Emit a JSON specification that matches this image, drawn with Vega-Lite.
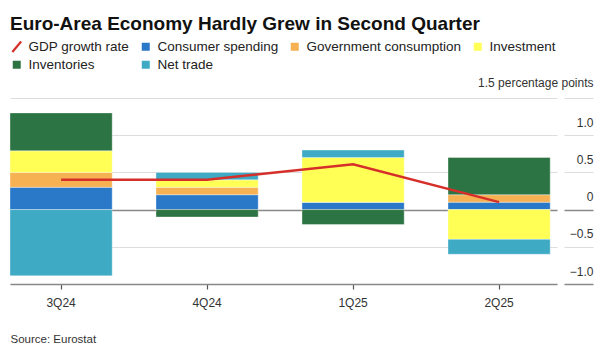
{
  "$schema": "https://vega.github.io/schema/vega-lite/v6.json",
  "width": 547,
  "height": 186,
  "autosize": {"type": "none"},
  "padding": {"left": 10, "top": 98, "right": 46, "bottom": 70},
  "config": {
    "font": "Liberation Sans",
    "view": {"stroke": null},
    "background": "#ffffff"
  },
  "title": {
    "text": "Euro-Area Economy Hardly Grew in Second Quarter",
    "anchor": "start",
    "frame": "group",
    "fontSize": 19,
    "fontWeight": "bold",
    "color": "#111111",
    "offset": 6
  },
  "datasets": {
    "bars": [
      {"quarter": "3Q24", "series": "Consumer spending", "value": 0.30},
      {"quarter": "3Q24", "series": "Government consumption", "value": 0.20},
      {"quarter": "3Q24", "series": "Investment", "value": 0.29},
      {"quarter": "3Q24", "series": "Inventories", "value": 0.51},
      {"quarter": "3Q24", "series": "Net trade", "value": -0.89},
      {"quarter": "4Q24", "series": "Consumer spending", "value": 0.20},
      {"quarter": "4Q24", "series": "Government consumption", "value": 0.10},
      {"quarter": "4Q24", "series": "Investment", "value": 0.10},
      {"quarter": "4Q24", "series": "Inventories", "value": -0.10},
      {"quarter": "4Q24", "series": "Net trade", "value": 0.10},
      {"quarter": "1Q25", "series": "Consumer spending", "value": 0.10},
      {"quarter": "1Q25", "series": "Government consumption", "value": 0.0},
      {"quarter": "1Q25", "series": "Investment", "value": 0.60},
      {"quarter": "1Q25", "series": "Inventories", "value": -0.20},
      {"quarter": "1Q25", "series": "Net trade", "value": 0.10},
      {"quarter": "2Q25", "series": "Consumer spending", "value": 0.10},
      {"quarter": "2Q25", "series": "Government consumption", "value": 0.10},
      {"quarter": "2Q25", "series": "Investment", "value": -0.40},
      {"quarter": "2Q25", "series": "Inventories", "value": 0.50},
      {"quarter": "2Q25", "series": "Net trade", "value": -0.20}
    ],
    "gdp": [
      {"quarter": "3Q24", "series": "GDP growth rate", "value": 0.40},
      {"quarter": "4Q24", "series": "GDP growth rate", "value": 0.40},
      {"quarter": "1Q25", "series": "GDP growth rate", "value": 0.61},
      {"quarter": "2Q25", "series": "GDP growth rate", "value": 0.10}
    ]
  },
  "encoding": {
    "x": {
      "field": "quarter",
      "type": "ordinal",
      "sort": ["3Q24", "4Q24", "1Q25", "2Q25"],
      "scale": {"paddingInner": 0.3, "paddingOuter": 0.0233, "align": 0},
      "axis": {
        "title": "Source: Eurostat",
        "titleAnchor": "start",
        "titleAlign": "left",
        "titleX": 0,
        "titleY": 55,
        "titleBaseline": "middle",
        "titleFontSize": 11.5,
        "titleFontWeight": "normal",
        "titleColor": "#333333",
        "labelAngle": 0,
        "labelFontSize": 12,
        "labelColor": "#333333",
        "labelPadding": 8,
        "bandPosition": 0.5,
        "tickSize": 5,
        "tickColor": "#555555",
        "tickWidth": 1.2,
        "domainColor": "#888888",
        "domainWidth": 1.5,
        "grid": false
      }
    },
    "y": {
      "field": "value",
      "type": "quantitative",
      "scale": {"domain": [-1, 1.5], "nice": false, "zero": false},
      "axis": {
        "orient": "right",
        "offset": 7,
        "title": null,
        "values": [-1, -0.5, 0, 0.5, 1, 1.5],
        "labelExpr": "datum.value === 1.5 ? '1.5 percentage points' : (datum.value === 0 ? '0' : format(datum.value, '.1f'))",
        "domain": false,
        "ticks": true,
        "tickSize": 29,
        "tickColor": {"condition": {"test": "datum.value === 0 || datum.value === -1", "value": "#888888"}, "value": "#dddddd"},
        "tickWidth": {"condition": {"test": "datum.value === 0 || datum.value === -1", "value": 1.5}, "value": 1},
        "labelAlign": "right",
        "labelPadding": 0,
        "labelBaseline": "alphabetic",
        "labelOffset": {"condition": {"test": "datum.value === 1.5", "value": -12}, "value": -9},
        "labelFontSize": 12,
        "labelColor": "#333333",
        "grid": true,
        "gridColor": {"condition": {"test": "datum.value === 0", "value": "#888888"}, "value": "#dddddd"},
        "gridWidth": {"condition": {"test": "datum.value === 0", "value": 1.5}, "value": 1}
      }
    },
    "color": {
      "field": "series",
      "type": "nominal",
      "scale": {
        "domain": ["GDP growth rate", "Consumer spending", "Government consumption", "Investment", "Inventories", "Net trade"],
        "range": ["#d62f2a", "#2a78c8", "#f5b152", "#ffff55", "#2d7444", "#3eaac4"]
      },
      "legend": {
        "title": null,
        "orient": "none",
        "legendX": 0,
        "legendY": -58,
        "direction": "horizontal",
        "columns": 4,
        "gridAlign": "none",
        "labelFontSize": 13.5,
        "labelColor": "#222222",
        "symbolSize": 64,
        "labelOffset": 5,
        "columnPadding": 9,
        "rowPadding": 0,
        "encode": {
          "symbols": {
            "update": {
              "shape": {"signal": "datum.value === 'GDP growth rate' ? 'M-1.1,1.3L1.1,-1.3' : 'square'"},
              "stroke": {"signal": "datum.value === 'GDP growth rate' ? '#d62f2a' : 'transparent'"},
              "strokeWidth": {"signal": "datum.value === 'GDP growth rate' ? 2.2 : 0"},
              "opacity": {"value": 1}
            }
          }
        }
      }
    }
  },
  "layer": [
    {
      "data": {"name": "bars"},
      "transform": [
        {"calculate": "indexof(['Consumer spending','Government consumption','Investment','Inventories','Net trade'], datum.series)", "as": "ord"}
      ],
      "mark": {"type": "bar", "stroke": "#ffffff", "strokeWidth": 0.6, "strokeOpacity": 0.6},
      "encoding": {
        "order": {"field": "ord", "type": "quantitative"}
      }
    },
    {
      "data": {"name": "gdp"},
      "mark": {"type": "line", "strokeWidth": 2.5},
      "encoding": {}
    }
  ]
}
